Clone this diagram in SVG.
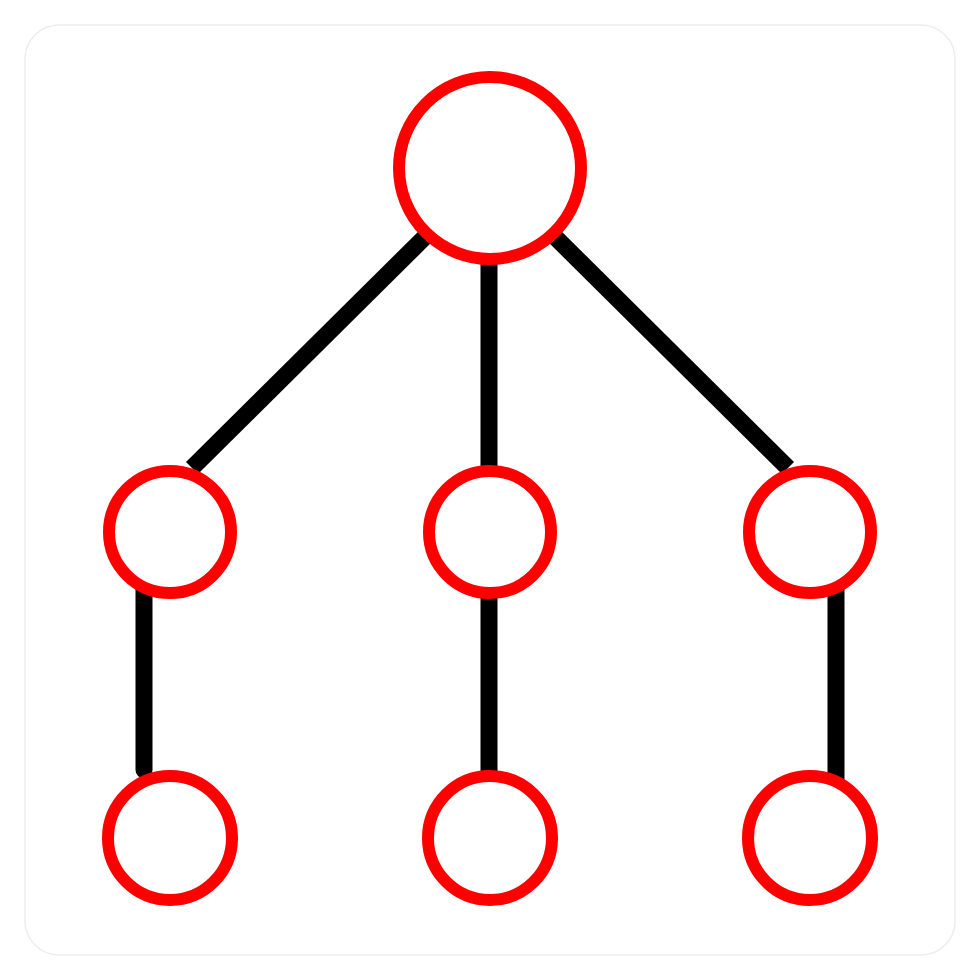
<svg xmlns="http://www.w3.org/2000/svg" width="980" height="980" viewBox="0 0 980 980">
<style>
.node{fill:#fff;stroke:#ff0000;stroke-width:12}
.edge{stroke:#000;stroke-width:17;fill:none}
</style>
<rect x="0" y="0" width="980" height="980" fill="#fff"/>
<rect x="25" y="25" width="930" height="930" rx="34" fill="#fff" stroke="#ededed" stroke-width="1.5"/>
<g id="connectors">
<line class="edge" x1="440" y1="222" x2="192" y2="468"/>
<line class="edge" x1="489" y1="250" x2="489" y2="475"/>
<line class="edge" x1="540" y1="222" x2="788" y2="468"/>
<line class="edge" x1="144" y1="580" x2="144" y2="770" stroke-linecap="round"/>
<line class="edge" x1="489" y1="580" x2="489" y2="780"/>
<line class="edge" x1="836" y1="580" x2="836" y2="780"/>
</g>
<g id="root"><circle class="node" cx="490" cy="168" r="91"/></g>
<g id="mid-left"><circle class="node" cx="170" cy="532" r="61"/></g>
<g id="mid-center"><circle class="node" cx="490" cy="532" r="61"/></g>
<g id="mid-right"><circle class="node" cx="810" cy="532" r="61"/></g>
<g id="bottom-left"><circle class="node" cx="170" cy="838" r="62"/></g>
<g id="bottom-center"><circle class="node" cx="490" cy="838" r="62"/></g>
<g id="bottom-right"><circle class="node" cx="810" cy="838" r="62"/></g>
</svg>
